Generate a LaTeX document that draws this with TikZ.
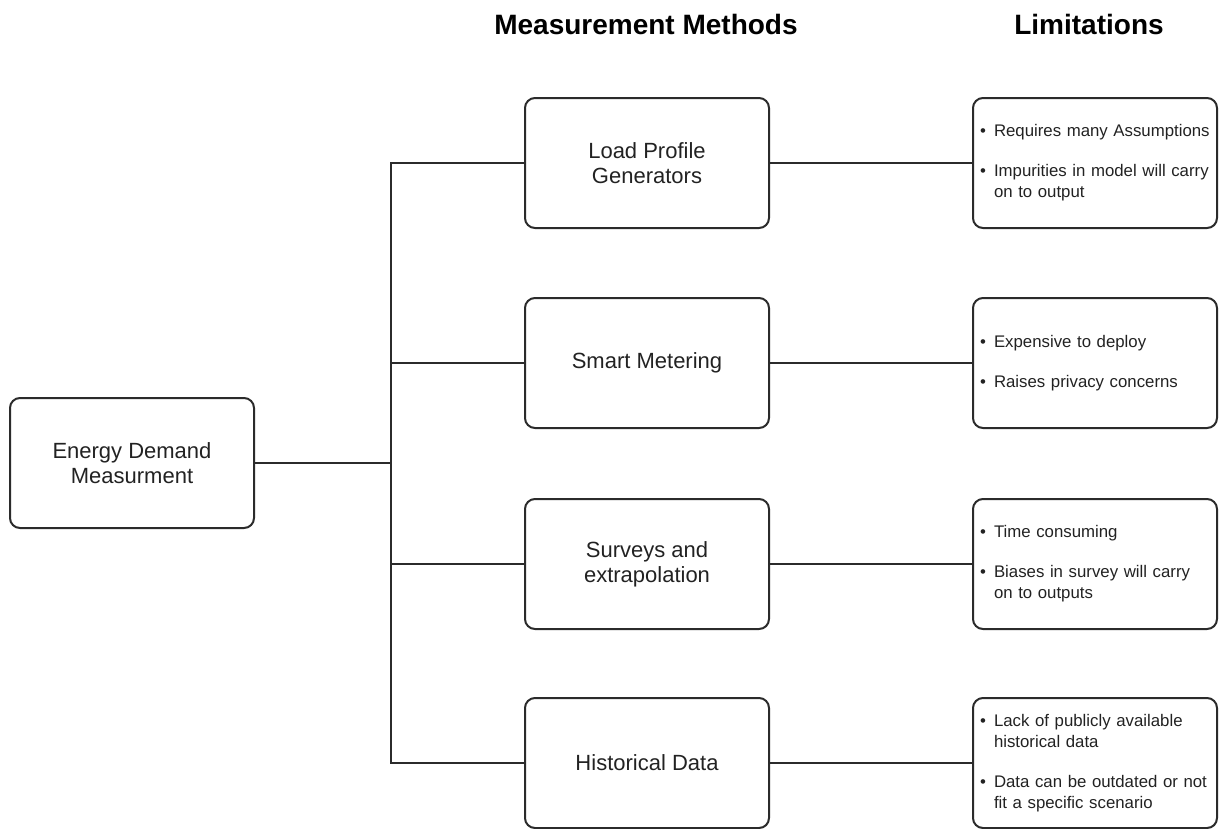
\documentclass[tikz,border=0pt]{standalone}
\usepackage{fontspec}
\setmainfont{Liberation Sans}
\usetikzlibrary{positioning}

\definecolor{linecol}{HTML}{2B2B2B}
\definecolor{txtcol}{HTML}{222222}

\newcommand{\nohyph}{\hyphenpenalty=10000\relax}
\tikzset{
    box/.style={draw=linecol, line width=2pt, rounded corners=10pt,
        minimum width=244pt, minimum height=130pt, align=center,
        text=txtcol, font=\fontsize{22}{25}\selectfont},
    limbox/.style={box, inner xsep=7pt, inner ysep=0pt, text width=230pt,
        align=left, font=\fontsize{16.8}{21}\selectfont\nohyph},
    heading/.style={font=\fontsize{28}{30}\selectfont\bfseries},
    conn/.style={draw=linecol, line width=2pt}
}
\newcommand{\bul}{\makebox[14pt][l]{\textbullet}}
\newcommand{\ind}{\hspace*{14pt}}

\begin{document}
\begin{tikzpicture}[x=1pt, y=-1pt]

    \useasboundingbox (0,0) rectangle (1219,828);

    % Titoli delle colonne
    \node[heading] (thead) at (646,24) {Measurement Methods};
    \node[heading] (lhead) at (1089,24) {Limitations};

    % Nodo radice
    \node[box] (root) at (132,463) {Energy Demand\\Measurment};

    % Metodi di misura
    \node[box] (lpg)    at (647,163) {Load Profile\\Generators};
    \node[box] (smart)  at (647,363) {Smart Metering};
    \node[box] (survey) at (647,564) {Surveys and\\extrapolation};
    \node[box] (hist)   at (647,763) {Historical Data};

    % Limitazioni
    \node[limbox] (limlpg) at (1095,163)
        {\bul Requires many Assumptions\\[19pt]
         \bul Impurities in model will carry\\
         \ind on to output};
    \node[limbox] (limsmart) at (1095,363)
        {\bul Expensive to deploy\\[19pt]
         \bul Raises privacy concerns};
    \node[limbox] (limsurvey) at (1095,564)
        {\bul Time consuming\\[19pt]
         \bul Biases in survey will carry\\
         \ind on to outputs};
    \node[limbox] (limhist) at (1095,763)
        {\bul Lack of publicly available\\
         \ind historical data\\[19pt]
         \bul Data can be outdated or not\\
         \ind fit a specific scenario};

    % Collegamenti: radice -> bus -> metodi
    \coordinate (bus) at (391,463);
    \draw[conn] (root.east) -- (bus);
    \draw[conn] (lpg.west) -| (bus);
    \draw[conn] (smart.west) -| (bus);
    \draw[conn] (survey.west) -| (bus);
    \draw[conn] (hist.west) -| (bus);

    % Collegamenti: metodi -> limitazioni
    \draw[conn] (lpg.east) -- (limlpg.west);
    \draw[conn] (smart.east) -- (limsmart.west);
    \draw[conn] (survey.east) -- (limsurvey.west);
    \draw[conn] (hist.east) -- (limhist.west);

\end{tikzpicture}
\end{document}
